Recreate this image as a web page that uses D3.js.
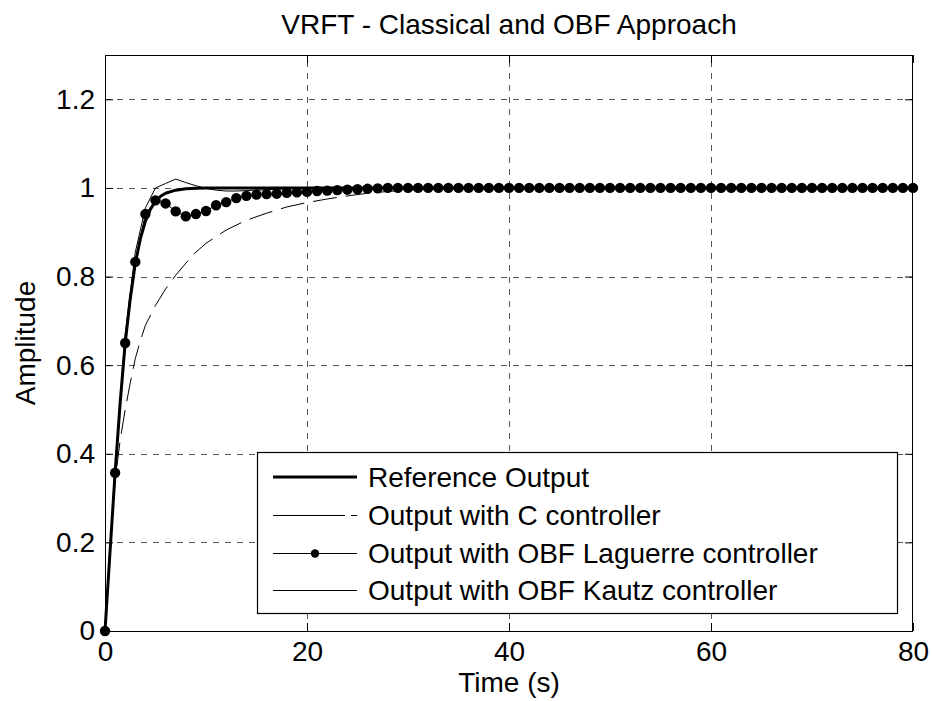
<!DOCTYPE html>
<html>
<head>
<meta charset="utf-8">
<script src="https://cdn.jsdelivr.net/npm/d3@7/dist/d3.min.js"></script>
<style>
  html, body { margin: 0; padding: 0; background: #fff; }
  svg { display: block; }
  text { font-family: "Liberation Sans", Arial, Helvetica, sans-serif; fill: #000; }
</style>
</head>
<body>
<svg id="chart" width="932" height="701"></svg>
<script>
// ---------------- DATA ----------------
const chartTitle = "VRFT - Classical and OBF Approach";
const xLabel = "Time (s)";
const yLabel = "Amplitude";
const xTicks = [0, 20, 40, 60, 80];
const yTicks = [0, 0.2, 0.4, 0.6, 0.8, 1, 1.2];
const legendLabels = [
  "Reference Output",
  "Output with C controller",
  "Output with OBF Laguerre controller",
  "Output with OBF Kautz controller"
];

// Reference output (thick line)
const refT = [0, 0.5, 1, 1.5, 2, 2.5, 3, 3.5, 4, 4.5, 5, 5.5, 6, 7, 8, 9, 10, 80];
const refY = [0, 0.18, 0.357, 0.515, 0.65, 0.75, 0.83, 0.885, 0.925, 0.952, 0.97, 0.981, 0.988, 0.995, 0.998, 0.9995, 1, 1];

// Output with C controller (dashed)
const cT = [0, 1, 1.5, 2, 2.5, 3, 3.5, 4, 5, 6, 7, 8, 9, 10, 12, 14, 16, 18, 20, 22, 24, 26, 28, 30, 35, 40, 80];
const cY = [0, 0.34, 0.43, 0.50, 0.56, 0.615, 0.655, 0.69, 0.735, 0.772, 0.803, 0.83, 0.855, 0.875, 0.905, 0.927, 0.943, 0.957, 0.967, 0.975, 0.982, 0.988, 0.992, 0.995, 0.999, 1, 1];

// Output with OBF Laguerre controller (markers every second, t = 0..80)
const lagY = [
  0, 0.357, 0.65, 0.833, 0.941, 0.972, 0.965, 0.947, 0.936, 0.941,
  0.948, 0.961, 0.968, 0.977, 0.982, 0.985, 0.986, 0.987, 0.989, 0.990,
  0.991, 0.993, 0.994, 0.995, 0.996, 0.997, 0.998, 0.999, 1, 1,
  1, 1, 1, 1, 1, 1, 1, 1, 1, 1,
  1, 1, 1, 1, 1, 1, 1, 1, 1, 1,
  1, 1, 1, 1, 1, 1, 1, 1, 1, 1,
  1, 1, 1, 1, 1, 1, 1, 1, 1, 1,
  1, 1, 1, 1, 1, 1, 1, 1, 1, 1,
  1
];

// Output with OBF Kautz controller (thin solid)
const kT = [0, 1, 2, 3, 4, 5, 6, 7, 8, 9, 10, 11, 12, 13, 14, 15, 16, 17, 18, 19, 20, 80];
const kY = [0, 0.37, 0.67, 0.855, 0.955, 1.0, 1.01, 1.02, 1.012, 1.005, 0.999, 0.995, 0.993, 0.993, 0.994, 0.995, 0.996, 0.997, 0.998, 0.999, 1, 1];

// ---------------- LAYOUT ----------------
const svg = d3.select("#chart");
const L = 105, R = 913, T = 55, B = 631;
const x = d3.scaleLinear().domain([0, 80]).range([L, R]);
const y = d3.scaleLinear().domain([0, 1.3]).range([B, T]);
const FS = 28;

// grid
const grid = svg.append("g").attr("stroke", "#555").attr("stroke-width", 1).attr("stroke-dasharray", "6,6").attr("fill", "none");
xTicks.filter(t => t > 0 && t < 80).forEach(t => {
  grid.append("line").attr("x1", Math.round(x(t)) + 0.5).attr("x2", Math.round(x(t)) + 0.5).attr("y1", B).attr("y2", T);
});
yTicks.filter(t => t > 0).forEach(t => {
  grid.append("line").attr("y1", Math.round(y(t)) + 0.5).attr("y2", Math.round(y(t)) + 0.5).attr("x1", L).attr("x2", R);
});

// series
const line = d3.line().x(d => x(d[0])).y(d => y(d[1]));
const refData = refT.map((t, i) => [t, refY[i]]);
const cData = cT.map((t, i) => [t, cY[i]]);
const lagData = lagY.map((v, i) => [i, v]);
const kData = kT.map((t, i) => [t, kY[i]]);

svg.append("path").datum(cData).attr("d", line).attr("fill", "none").attr("stroke", "#000").attr("stroke-width", 1).attr("stroke-dasharray", "24,9");
svg.append("path").datum(refData).attr("d", line).attr("fill", "none").attr("stroke", "#000").attr("stroke-width", 3).attr("stroke-linejoin", "round");
svg.append("path").datum(lagData).attr("d", line).attr("fill", "none").attr("stroke", "#000").attr("stroke-width", 1);
svg.selectAll("circle.lag").data(lagData).enter().append("circle").attr("class", "lag")
  .attr("cx", d => x(d[0])).attr("cy", d => y(d[1])).attr("r", 5.2).attr("fill", "#000");
svg.append("path").datum(kData).attr("d", line).attr("fill", "none").attr("stroke", "#000").attr("stroke-width", 1);

// axes
const fmtY = d => d3.format("~g")(d);
const ax = svg.append("g").attr("transform", `translate(0,${B})`)
  .call(d3.axisBottom(x).tickValues(xTicks).tickSizeInner(-8).tickSizeOuter(0).tickPadding(10).tickFormat(d3.format("d")));
const ay = svg.append("g").attr("transform", `translate(${L},0)`)
  .call(d3.axisLeft(y).tickValues(yTicks).tickSizeInner(-8).tickSizeOuter(0).tickPadding(10).tickFormat(fmtY));
const axT = svg.append("g").attr("transform", `translate(0,${T})`)
  .call(d3.axisTop(x).tickValues(xTicks).tickSizeInner(-8).tickSizeOuter(0).tickFormat(""));
const ayR = svg.append("g").attr("transform", `translate(${R},0)`)
  .call(d3.axisRight(y).tickValues(yTicks).tickSizeInner(-8).tickSizeOuter(0).tickFormat(""));
[ax, ay, axT, ayR].forEach(g => {
  g.select(".domain").remove();
  g.selectAll("line").attr("stroke", "#000").attr("stroke-width", 1);
  g.selectAll("text").attr("font-size", FS).attr("font-family", null).style("fill", "#000");
});

// box
svg.append("rect").attr("x", L + 0.5).attr("y", T + 0.5).attr("width", R - L - 1).attr("height", B - T)
  .attr("fill", "none").attr("stroke", "#000").attr("stroke-width", 1);

// legend
const lg = svg.append("g");
const lx = 257, ly = 452, lw = 640, lh = 161;
lg.append("rect").attr("x", lx + 0.5).attr("y", ly + 0.5).attr("width", lw).attr("height", lh)
  .attr("fill", "#fff").attr("stroke", "#000").attr("stroke-width", 1.2);
const rowY = [477, 515, 553, 590];
const sx1 = 273, sx2 = 357, tx = 368;
lg.append("line").attr("x1", sx1).attr("x2", sx2).attr("y1", rowY[0]).attr("y2", rowY[0]).attr("stroke", "#000").attr("stroke-width", 3);
lg.append("line").attr("x1", sx1).attr("x2", sx2).attr("y1", rowY[1] + 0.5).attr("y2", rowY[1] + 0.5).attr("stroke", "#000").attr("stroke-width", 1).attr("stroke-dasharray", "72,6,12");
lg.append("line").attr("x1", sx1).attr("x2", sx2).attr("y1", rowY[2] + 0.5).attr("y2", rowY[2] + 0.5).attr("stroke", "#000").attr("stroke-width", 1);
lg.append("circle").attr("cx", (sx1 + sx2) / 2).attr("cy", rowY[2] + 0.5).attr("r", 4.2).attr("fill", "#000");
lg.append("line").attr("x1", sx1).attr("x2", sx2).attr("y1", rowY[3] + 0.5).attr("y2", rowY[3] + 0.5).attr("stroke", "#000").attr("stroke-width", 1);
legendLabels.forEach((s, i) => {
  lg.append("text").attr("x", tx).attr("y", rowY[i]).attr("dy", "0.35em").attr("font-size", FS).text(s);
});

// titles
svg.append("text").attr("x", 509).attr("y", 34).attr("text-anchor", "middle").attr("font-size", FS).text(chartTitle);
svg.append("text").attr("x", 509).attr("y", 692).attr("text-anchor", "middle").attr("font-size", FS).text(xLabel);
svg.append("text").attr("transform", "translate(35,343) rotate(-90)").attr("text-anchor", "middle").attr("font-size", FS).text(yLabel);
</script>
</body>
</html>
